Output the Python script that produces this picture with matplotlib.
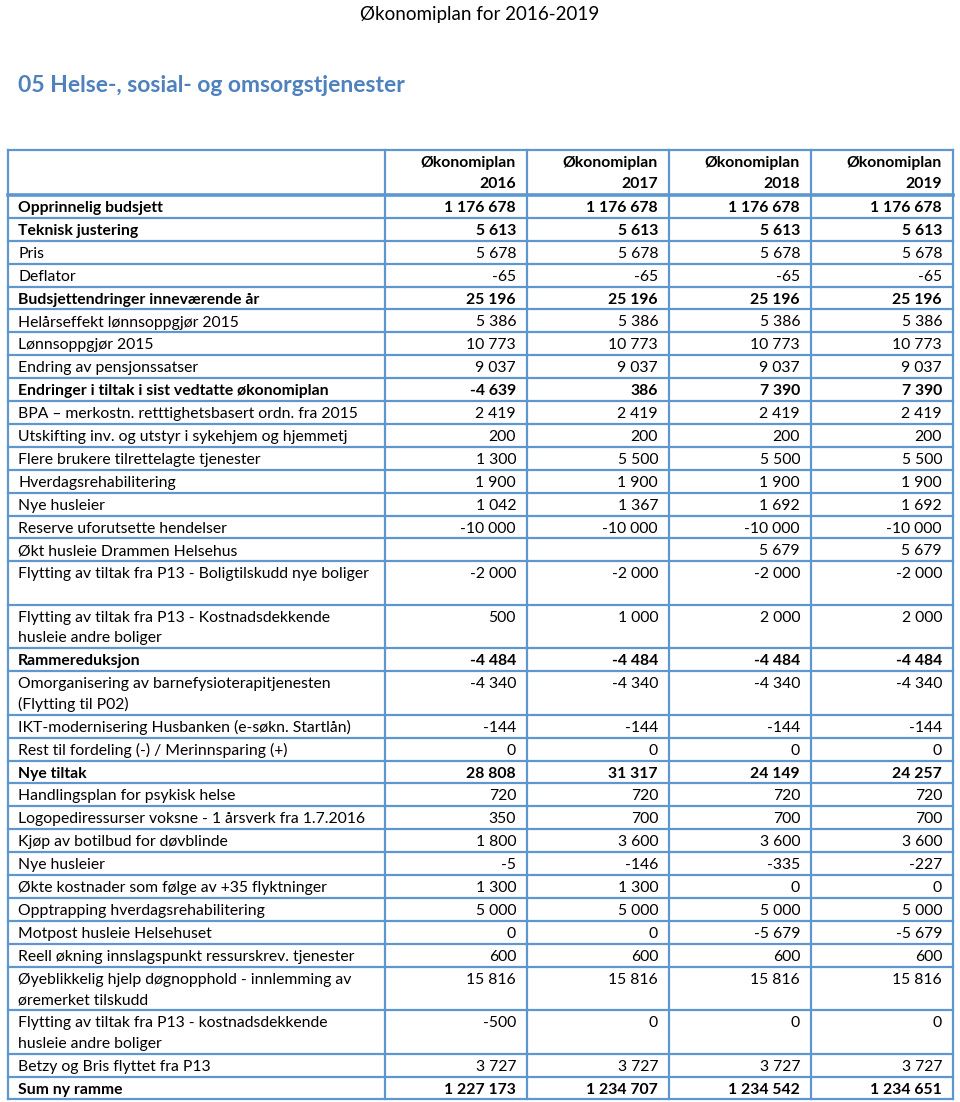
import matplotlib
matplotlib.use("Agg")
import matplotlib.pyplot as plt

# ------- data -------
labels = [
    "Opprinnelig budsjett",
    "Teknisk justering",
    "Pris",
    "Deflator",
    "Budsjettendringer inneværende år",
    "Helårseffekt lønnsoppgjør 2015",
    "Lønnsoppgjør 2015",
    "Endring av pensjonssatser",
    "Endringer i tiltak i sist vedtatte økonomiplan",
    "BPA – merkostn. retttighetsbasert ordn. fra 2015",
    "Utskifting inv. og utstyr i sykehjem og hjemmetj",
    "Flere brukere tilrettelagte tjenester",
    "Hverdagsrehabilitering",
    "Nye husleier",
    "Reserve uforutsette hendelser",
    "Økt husleie Drammen Helsehus",
    "Flytting av tiltak fra P13 - Boligtilskudd nye boliger",
    "Flytting av tiltak fra P13 - Kostnadsdekkende\nhusleie andre boliger",
    "Rammereduksjon",
    "Omorganisering av barnefysioterapitjenesten\n(Flytting til P02)",
    "IKT-modernisering Husbanken (e-søkn. Startlån)",
    "Rest til fordeling (-) / Merinnsparing (+)",
    "Nye tiltak",
    "Handlingsplan for psykisk helse",
    "Logopediressurser voksne - 1 årsverk fra 1.7.2016",
    "Kjøp av botilbud for døvblinde",
    "Nye husleier",
    "Økte kostnader som følge av +35 flyktninger",
    "Opptrapping hverdagsrehabilitering",
    "Motpost husleie Helsehuset",
    "Reell økning innslagspunkt ressurskrev. tjenester",
    "Øyeblikkelig hjelp døgnopphold - innlemming av\nøremerket tilskudd",
    "Flytting av tiltak fra P13 - kostnadsdekkende\nhusleie andre boliger",
    "Betzy og Bris flyttet fra P13",
    "Sum ny ramme",
]
col_headers = ["Økonomiplan\n2016", "Økonomiplan\n2017", "Økonomiplan\n2018", "Økonomiplan\n2019"]

y2016 = [1176678, 5613, 5678, -65, 25196, 5386, 10773, 9037, -4639, 2419, 200, 1300, 1900, 1042,
         -10000, None, -2000, 500, -4484, -4340, -144, 0, 28808, 720, 350, 1800, -5, 1300, 5000,
         0, 600, 15816, -500, 3727, 1227173]
y2017 = [1176678, 5613, 5678, -65, 25196, 5386, 10773, 9037, 386, 2419, 200, 5500, 1900, 1367,
         -10000, None, -2000, 1000, -4484, -4340, -144, 0, 31317, 720, 700, 3600, -146, 1300, 5000,
         0, 600, 15816, 0, 3727, 1234707]
y2018 = [1176678, 5613, 5678, -65, 25196, 5386, 10773, 9037, 7390, 2419, 200, 5500, 1900, 1692,
         -10000, 5679, -2000, 2000, -4484, -4340, -144, 0, 24149, 720, 700, 3600, -335, 0, 5000,
         -5679, 600, 15816, 0, 3727, 1234542]
y2019 = [1176678, 5613, 5678, -65, 25196, 5386, 10773, 9037, 7390, 2419, 200, 5500, 1900, 1692,
         -10000, 5679, -2000, 2000, -4484, -4340, -144, 0, 24257, 720, 700, 3600, -227, 0, 5000,
         -5679, 600, 15816, 0, 3727, 1234651]

bold_rows = [0, 1, 4, 8, 18, 22, 34]
tall_rows = [16]   # one line of text but double height

# ------- layout -------
W, H = 960, 1102
blue = "#5E97D0"
font = "Lato"
fs = 11.3

fig = plt.figure(figsize=(W / 100, H / 100), dpi=100)
ax = fig.add_axes([0, 0, 1, 1])
ax.set_xlim(0, W)
ax.set_ylim(H, 0)
ax.axis("off")

ax.text(480, 20, "Økonomiplan for 2016-2019", ha="center", va="baseline",
        fontsize=13.5, family=font)
ax.text(18, 92, "05 Helse-, sosial- og omsorgstjenester", ha="left", va="baseline",
        fontsize=16.5, family=font, weight="bold", color="#4F81BD")

xs = [8, 385, 527, 669, 811, 953]
single, double = 22.9, 43.5
header_top, header_bot = 150, 195
line_gap = 20.5

tops = []
y = header_bot
for i, lab in enumerate(labels):
    tops.append(y)
    y += double if ("\n" in lab or i in tall_rows) else single
bottom = y

# grid
lw = 1.6
for x in xs:
    ax.plot([x, x], [header_top, bottom], color=blue, lw=lw, solid_capstyle="projecting")
ax.plot([xs[0], xs[-1]], [header_top, header_top], color=blue, lw=lw)
ax.plot([xs[0], xs[-1]], [header_bot, header_bot], color=blue, lw=2.6)
for t in tops[1:]:
    ax.plot([xs[0], xs[-1]], [t, t], color=blue, lw=lw)
ax.plot([xs[0], xs[-1]], [bottom, bottom], color=blue, lw=lw)

def put(x, y0, s, ha, wt):
    for k, part in enumerate(s.split("\n")):
        ax.text(x, y0 + k * line_gap, part, ha=ha, va="baseline", fontsize=fs,
                family=font, weight=wt)

for j, h in enumerate(col_headers):
    put(xs[j + 2] - 11, header_top + 17, h, "right", "bold")

def fmt(v):
    if v is None:
        return ""
    return f"{v:,}".replace(",", " ")

cols = [y2016, y2017, y2018, y2019]
for i, lab in enumerate(labels):
    wt = "bold" if i in bold_rows else "normal"
    yb = tops[i] + 17
    put(18, yb, lab, "left", wt)
    for j, col in enumerate(cols):
        put(xs[j + 2] - 11, yb, fmt(col[i]), "right", wt)

fig.savefig("out.png", dpi=100)
